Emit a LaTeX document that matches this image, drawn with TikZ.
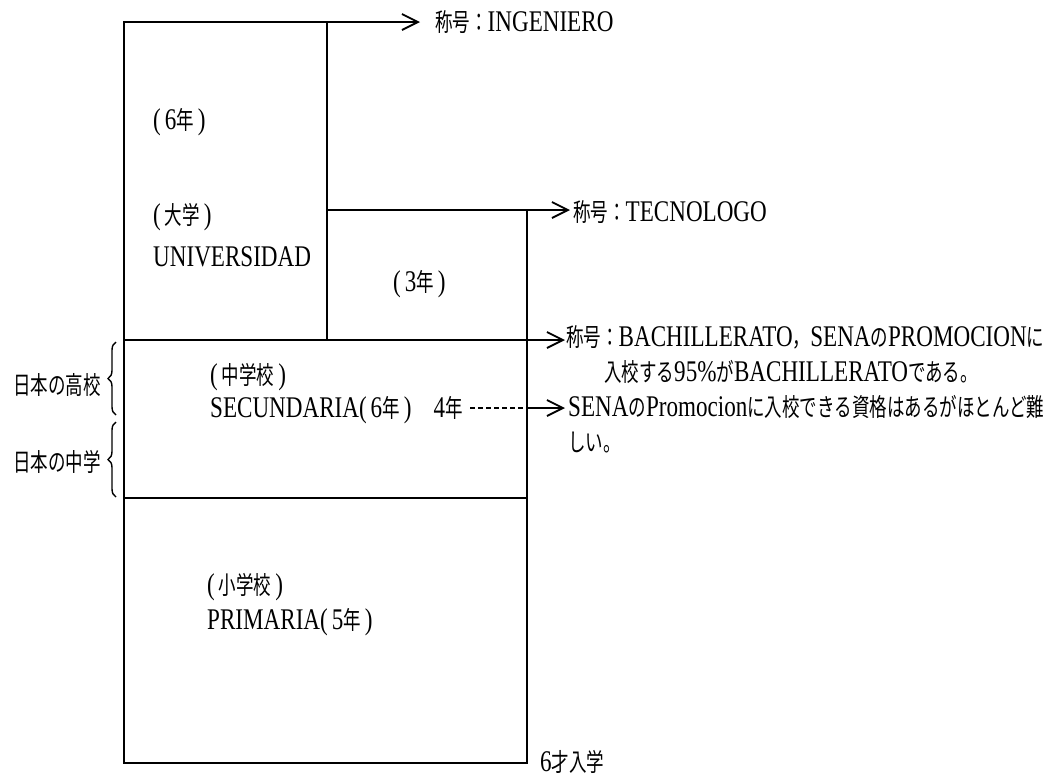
\documentclass[tikz,border=0pt]{standalone}
\usepackage{fontspec}
\setmainfont[FakeStretch=0.77]{Liberation Serif}
\newfontfamily\jpf[FakeStretch=0.7]{Noto Sans CJK JP}
\usetikzlibrary{arrows.meta,decorations.pathreplacing}
\newcommand\J[1]{{\jpf\fontsize{25}{35}\selectfont #1}}
\newcommand\LP{(\kern4pt}
\newcommand\RP{\kern4pt)}
\begin{document}
\begin{tikzpicture}[x=1pt,y=-1pt,
  wall/.style={line width=2.5pt, line cap=rect},
  arr/.style={line width=2.5pt, -{Straight Barb[length=16pt,width=16pt,line width=1.8pt]}},
  dashline/.style={line width=1.3pt, dash pattern=on 5pt off 3pt},
  bracestyle/.style={line width=1.4pt, decorate, decoration={brace, amplitude=8pt}},
  lbl/.style={anchor=base west, inner sep=0pt, font=\fontsize{30}{35}\selectfont},
  ]
\fill[white] (0,0) rectangle (1044,777);
\useasboundingbox (0,0) rectangle (1044,777);
% corners
\coordinate (TL) at (124,22);
\coordinate (TM) at (327,22);
\coordinate (A1) at (420,22);
\coordinate (UM) at (327,210);
\coordinate (UR) at (527,210);
\coordinate (A2) at (570,210);
\coordinate (ML) at (124,340);
\coordinate (MM) at (327,340);
\coordinate (MR) at (527,340);
\coordinate (A3) at (565,340);
\coordinate (SL) at (124,498);
\coordinate (SR) at (527,498);
\coordinate (BL) at (124,763);
\coordinate (BR) at (527,763);
\coordinate (D0) at (470,408);
\coordinate (D1) at (527,408);
\coordinate (A4) at (565,408);
\coordinate (B1a) at (116,415);
\coordinate (B1b) at (116,342);
\coordinate (B2a) at (116,497);
\coordinate (B2b) at (116,422);
% frame
\draw[wall] (BL) -- (TL);
\draw[arr] (TL) -- (A1);
\draw[wall] (TM) -- (MM);
\draw[arr] (UM) -- (A2);
\draw[wall] (UR) -- (BR);
\draw[arr] (ML) -- (A3);
\draw[wall] (SL) -- (SR);
\draw[wall] (BL) -- (BR);
\draw[dashline] (D0) -- (D1);
\draw[arr] (D1) -- (A4);
% braces
\draw[bracestyle] (B1a) -- (B1b);
\draw[bracestyle] (B2a) -- (B2b);
% labels
\node[lbl] (ing) at (435,31) {\J{称号：}INGENIERO};
\node[lbl] (tec) at (573,221) {\J{称号：}TECNOLOGO};
\node[lbl] (y6) at (153,129) {\LP 6\J{年}\RP};
\node[lbl] (dai) at (153,224) {\LP\J{大学}\RP};
\node[lbl] (univ) at (153,266) {UNIVERSIDAD};
\node[lbl] (y3) at (393,291) {\LP 3\J{年}\RP};
\node[lbl] (bach1) at (566,346) {\J{称号：}BACHILLERATO\J{，}SENA\J{の}PROMOCION\J{に}};
\node[lbl] (bach2) at (604,381) {\J{入校する}95\%\J{が}BACHILLERATO\J{である。}};
\node[lbl] (sena1) at (568,416) {SENA\J{の}Promocion\J{に入校できる資格はあるがほとんど難}};
\node[lbl] (sena2) at (568,451) {\J{しい。}};
\node[lbl] (chu) at (210,384) {\LP\J{中学校}\RP};
\node[lbl] (sec) at (210,417) {SECUNDARIA\LP 6\J{年}\RP\kern22pt 4\J{年}};
\node[lbl] (sho) at (207,594) {\LP\J{小学校}\RP};
\node[lbl] (pri) at (207,629) {PRIMARIA\LP 5\J{年}\RP};
\node[lbl] (age) at (540,771) {6\J{才入学}};
\node[lbl] (jhs) at (13,394) {\J{日本の高校}};
\node[lbl] (jjh) at (13,471) {\J{日本の中学}};
\end{tikzpicture}
\end{document}
